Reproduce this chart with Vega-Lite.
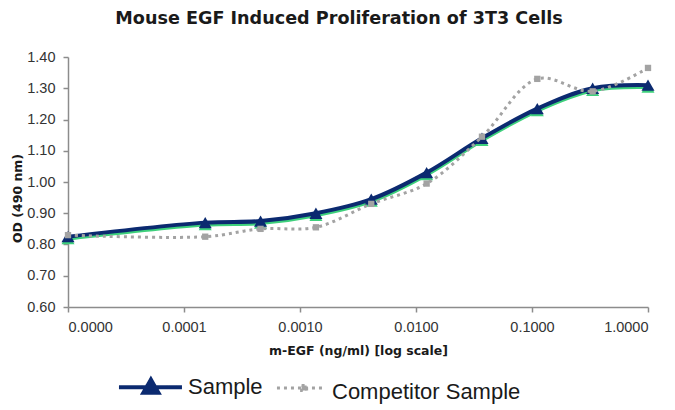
{
  "$schema": "https://vega.github.io/schema/vega-lite/v6.json",
  "width": 580,
  "height": 250,
  "autosize": {"type": "none"},
  "padding": {"left": 68, "top": 57, "right": 27, "bottom": 103},
  "background": "white",
  "config": {
    "view": {"stroke": null},
    "font": "Liberation Sans"
  },
  "title": {
    "text": "Mouse EGF Induced Proliferation of 3T3 Cells",
    "anchor": "middle",
    "frame": "group",
    "dx": -19,
    "offset": 21,
    "font": "DejaVu Sans",
    "fontSize": 17.6,
    "fontWeight": "bold",
    "color": "#1a1a1a"
  },
  "data": {
    "values": [
      {"series": "Sample", "conc": 0.00001, "od": 0.825},
      {"series": "Sample", "conc": 0.0001524, "od": 0.87},
      {"series": "Sample", "conc": 0.000457, "od": 0.875},
      {"series": "Sample", "conc": 0.001372, "od": 0.9},
      {"series": "Sample", "conc": 0.004115, "od": 0.945},
      {"series": "Sample", "conc": 0.01235, "od": 1.03},
      {"series": "Sample", "conc": 0.03704, "od": 1.14},
      {"series": "Sample", "conc": 0.1111, "od": 1.235},
      {"series": "Sample", "conc": 0.3333, "od": 1.3},
      {"series": "Sample", "conc": 1, "od": 1.31},
      {"series": "Competitor Sample", "conc": 0.00001, "od": 0.83},
      {"series": "Competitor Sample", "conc": 0.0001524, "od": 0.825},
      {"series": "Competitor Sample", "conc": 0.000457, "od": 0.85},
      {"series": "Competitor Sample", "conc": 0.001372, "od": 0.855},
      {"series": "Competitor Sample", "conc": 0.004115, "od": 0.93},
      {"series": "Competitor Sample", "conc": 0.01235, "od": 0.995},
      {"series": "Competitor Sample", "conc": 0.03704, "od": 1.145},
      {"series": "Competitor Sample", "conc": 0.1111, "od": 1.33},
      {"series": "Competitor Sample", "conc": 0.3333, "od": 1.29},
      {"series": "Competitor Sample", "conc": 1, "od": 1.365}
    ]
  },
  "encoding": {
    "x": {
      "field": "conc",
      "type": "quantitative",
      "scale": {"type": "log", "domain": [0.00001, 1]},
      "axis": {
        "title": "m-EGF (ng/ml) [log scale]",
        "values": [0.00001, 0.0001, 0.001, 0.01, 0.1, 1],
        "format": ".4f",
        "grid": false,
        "domainColor": "#8c8c8c",
        "domainWidth": 1.5,
        "tickColor": "#8c8c8c",
        "tickWidth": 1.5,
        "tickSize": 5,
        "labelPadding": 8,
        "labelFont": "Liberation Sans",
        "labelFontSize": 14.5,
        "labelColor": "#333333",
        "titleFont": "DejaVu Sans",
        "titleFontSize": 12.5,
        "titleFontWeight": "bold",
        "titleColor": "#1a1a1a",
        "titlePadding": 11
      }
    },
    "y": {
      "field": "od",
      "type": "quantitative",
      "scale": {"domain": [0.6, 1.4]},
      "axis": {
        "title": "OD (490 nm)",
        "values": [0.6, 0.7, 0.8, 0.9, 1.0, 1.1, 1.2, 1.3, 1.4],
        "format": ".2f",
        "grid": false,
        "domainColor": "#8c8c8c",
        "domainWidth": 1.5,
        "tickColor": "#8c8c8c",
        "tickWidth": 1.5,
        "tickSize": 5,
        "labelPadding": 8,
        "labelFont": "Liberation Sans",
        "labelFontSize": 14.5,
        "labelColor": "#333333",
        "titleFont": "DejaVu Sans",
        "titleFontSize": 12.5,
        "titleFontWeight": "bold",
        "titleColor": "#1a1a1a",
        "titleX": -51,
        "titleY": 141,
        "titleAlign": "center",
        "titleBaseline": "middle"
      }
    }
  },
  "layer": [
    {
      "transform": [{"filter": "datum.series === 'Sample'"}],
      "mark": {"type": "line", "interpolate": "catmull-rom", "color": "#3ed07c", "strokeWidth": 4, "yOffset": 2}
    },
    {
      "transform": [{"filter": "datum.series === 'Sample'"}],
      "mark": {"type": "point", "shape": "triangle-up", "filled": true, "opacity": 1, "color": "#3ed07c", "size": 170, "yOffset": 2}
    },
    {
      "transform": [{"filter": "datum.series === 'Sample'"}],
      "mark": {"type": "line", "interpolate": "catmull-rom", "strokeWidth": 4},
      "encoding": {
        "color": {
          "field": "series",
          "type": "nominal",
          "scale": {"domain": ["Sample", "Competitor Sample"], "range": ["#0b2a70", "#a3a3a3"]},
          "legend": {
            "orient": "none",
            "legendX": 73,
            "legendY": 317,
            "direction": "horizontal",
            "title": null,
            "padding": 0,
            "labelFont": "Liberation Sans",
            "labelFontSize": 22,
            "labelColor": "#1a1a1a",
            "labelLimit": 400,
            "labelOffset": 25,
            "columnPadding": 7,
            "symbolSize": 3136,
            "encode": {
              "labels": {
                "update": {
                  "dy": {"signal": "datum.value === 'Sample' ? 0 : 7"}
                }
              },
              "symbols": {
                "update": {
                  "shape": {"signal": "datum.value === 'Sample' ? 'M-1.18,0H1.07M-0.31,0.2L-0.04,-0.27L0.23,0.2Z' : 'M-0.68,0.11H1.07M0.2,0.02H0.38V0.2H0.2Z'"},
                  "fill": {"signal": "datum.value === 'Sample' ? '#0b2a70' : '#a3a3a3'"},
                  "stroke": {"signal": "datum.value === 'Sample' ? '#0b2a70' : '#a3a3a3'"},
                  "strokeWidth": {"signal": "datum.value === 'Sample' ? 4 : 3"},
                  "strokeDash": {"signal": "datum.value === 'Sample' ? [1, 0] : [3, 4]"},
                  "opacity": {"value": 1},
                  "fillOpacity": {"value": 1}
                }
              }
            }
          }
        }
      }
    },
    {
      "transform": [{"filter": "datum.series === 'Sample'"}],
      "mark": {"type": "point", "shape": "triangle-up", "filled": true, "opacity": 1, "size": 170},
      "encoding": {
        "color": {"field": "series", "type": "nominal", "scale": {"domain": ["Sample", "Competitor Sample"], "range": ["#0b2a70", "#a3a3a3"]}}
      }
    },
    {
      "transform": [{"filter": "datum.series === 'Competitor Sample'"}],
      "mark": {"type": "line", "interpolate": "catmull-rom", "strokeWidth": 3, "strokeDash": [3, 4]},
      "encoding": {
        "color": {"field": "series", "type": "nominal", "scale": {"domain": ["Sample", "Competitor Sample"], "range": ["#0b2a70", "#a3a3a3"]}}
      }
    },
    {
      "transform": [{"filter": "datum.series === 'Competitor Sample'"}],
      "mark": {"type": "point", "shape": "square", "filled": true, "opacity": 1, "size": 40},
      "encoding": {
        "color": {"field": "series", "type": "nominal", "scale": {"domain": ["Sample", "Competitor Sample"], "range": ["#0b2a70", "#a3a3a3"]}}
      }
    }
  ]
}
